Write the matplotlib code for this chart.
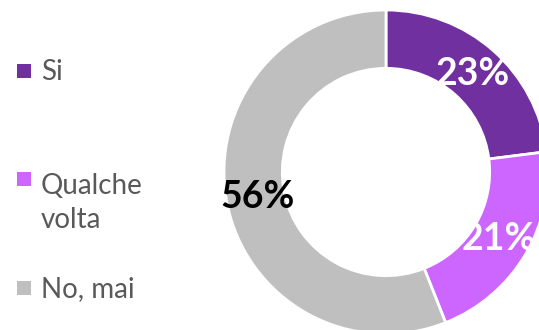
import matplotlib
matplotlib.use("Agg")
import matplotlib.pyplot as plt
from matplotlib.patches import Rectangle

plt.rcParams['font.family'] = ['Lato', 'DejaVu Sans']

# survey answers
labels = ['Si', 'Qualche\nvolta', 'No, mai']
values = [23, 21, 56]
colors = ['#7030A0', '#CC66FF', '#BFBFBF']
pct_colors = ['white', 'white', 'black']

W, H = 539, 330
fig = plt.figure(figsize=(W / 100, H / 100), dpi=100)

# donut: centre at (386, 172) px, radius 162 px
cx, cy, r = 386, 172, 162
ax = fig.add_axes([(cx - r) / W, (H - cy - r) / H, 2 * r / W, 2 * r / H])
wedges, _, pcts = ax.pie(values, colors=colors, startangle=90, counterclock=False,
                         autopct='%d%%', pctdistance=0.81,
                         wedgeprops=dict(width=0.36, edgecolor='white', linewidth=2))
for t, c in zip(pcts, pct_colors):
    t.set_color(c)
    t.set_fontsize(27)
    t.set_fontweight('bold')
ax.set_xlim(-1, 1)
ax.set_ylim(-1, 1)
ax.axis('off')

# legend drawn by hand on the left (baseline = last line of the label)
marker_y = [71, 179, 288]
text_base = [80, 228, 297]
for lab, col, my, ty in zip(labels, colors, marker_y, text_base):
    fig.patches.append(Rectangle((17 / W, (H - my - 7) / H), 14 / W, 14 / H,
                                 facecolor=col, edgecolor='none',
                                 transform=fig.transFigure, figure=fig))
    fig.text(41 / W, (H - ty) / H, lab, fontsize=20, color='#595959',
             ha='left', va='baseline', linespacing=1.36)

fig.savefig('out.png', dpi=100)
